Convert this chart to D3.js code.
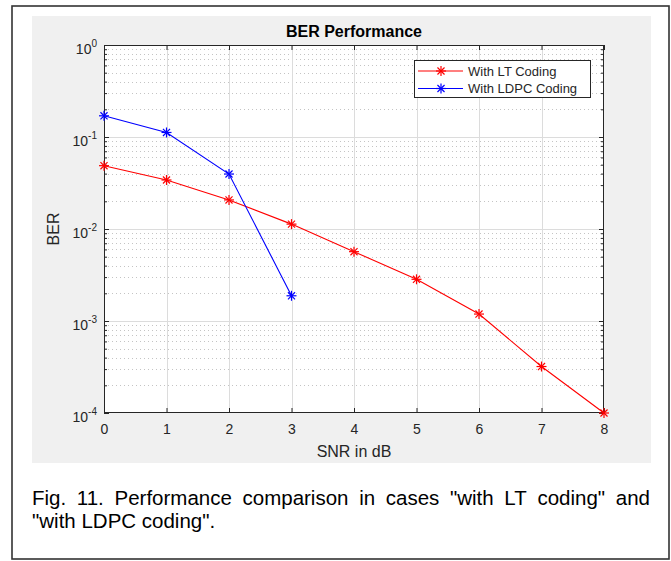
<!DOCTYPE html>
<html>
<head>
<meta charset="utf-8">
<script src="https://cdn.jsdelivr.net/npm/d3@7"></script>
<style>
  html, body { margin: 0; padding: 0; background: #ffffff; }
  svg { display: block; }
  text { font-family: "Liberation Sans", Arial, Helvetica, sans-serif; }
</style>
</head>
<body>
<svg id="chart" width="671" height="561"></svg>
<script>
// ---------- data ----------
const snr = [0, 1, 2, 3, 4, 5, 6, 7, 8];
const berLT = [0.0488, 0.0341, 0.0207, 0.0113, 0.00567, 0.00284, 0.00119, 0.00032, 0.0001];
const snrLDPC = [0, 1, 2, 3];
const berLDPC = [0.170, 0.112, 0.0396, 0.00188];
const seriesNames = ["With LT Coding", "With LDPC Coding"];
const xTicks = [0, 1, 2, 3, 4, 5, 6, 7, 8];
const yExponents = [0, -1, -2, -3, -4];
const titleText = "BER Performance";
const xLabel = "SNR in dB";
const yLabel = "BER";
const captionLines = [
  "Fig. 11. Performance comparison in cases \"with LT coding\" and",
  "\"with LDPC coding\"."
];

// ---------- layout ----------
const svg = d3.select("#chart");
const plot = { left: 104, right: 604, top: 45, bottom: 413 };
const axisColor = "#262626";

// outer border
svg.append("rect").attr("x", 12).attr("y", 6).attr("width", 657).attr("height", 553)
  .attr("fill", "#ffffff").attr("stroke", "#333333").attr("stroke-width", 1.6);
// figure background
svg.append("rect").attr("x", 32).attr("y", 16).attr("width", 619).attr("height", 447)
  .attr("fill", "#f0f0f0");
// plot background
svg.append("rect").attr("x", plot.left).attr("y", plot.top)
  .attr("width", plot.right - plot.left).attr("height", plot.bottom - plot.top)
  .attr("fill", "#ffffff");

const x = d3.scaleLinear().domain([0, 8]).range([plot.left, plot.right]);
const y = d3.scaleLog().domain([1e-4, 1]).range([plot.bottom, plot.top]);

// minor values
const minorVals = [];
for (let e = -4; e < 0; e++) for (let k = 2; k <= 9; k++) minorVals.push(k * Math.pow(10, e));
const majorVals = yExponents.map(e => Math.pow(10, e));

// minor grid (dotted)
svg.append("g").selectAll("line").data(minorVals).join("line")
  .attr("x1", plot.left).attr("x2", plot.right)
  .attr("y1", d => Math.round(y(d)) + 0.5).attr("y2", d => Math.round(y(d)) + 0.5)
  .attr("stroke", "#c4c4c4").attr("stroke-width", 1).attr("stroke-dasharray", "1,3");
// major grid horizontal
svg.append("g").selectAll("line").data(majorVals.slice(1, -1)).join("line")
  .attr("x1", plot.left).attr("x2", plot.right)
  .attr("y1", d => Math.round(y(d)) + 0.5).attr("y2", d => Math.round(y(d)) + 0.5)
  .attr("stroke", "#dcdcdc").attr("stroke-width", 1);
// major grid vertical
svg.append("g").selectAll("line").data(xTicks.slice(1, -1)).join("line")
  .attr("x1", d => Math.round(x(d)) + 0.5).attr("x2", d => Math.round(x(d)) + 0.5)
  .attr("y1", plot.top).attr("y2", plot.bottom)
  .attr("stroke", "#dcdcdc").attr("stroke-width", 1);

// axes (ticks inside)
const xAxisB = d3.axisBottom(x).tickValues(xTicks).tickSizeInner(-5).tickSizeOuter(0).tickPadding(11).tickFormat(d3.format("d"));
const gxb = svg.append("g").attr("transform", `translate(0,${plot.bottom})`).call(xAxisB);
const xAxisT = d3.axisTop(x).tickValues(xTicks).tickSizeInner(-5).tickSizeOuter(0).tickFormat("");
const gxt = svg.append("g").attr("transform", `translate(0,${plot.top})`).call(xAxisT);

const yAxisL = d3.axisLeft(y).tickValues(majorVals).tickSizeInner(-5).tickSizeOuter(0).tickFormat("");
const gyl = svg.append("g").attr("transform", `translate(${plot.left},0)`).call(yAxisL);
const yAxisR = d3.axisRight(y).tickValues(majorVals).tickSizeInner(-5).tickSizeOuter(0).tickFormat("");
const gyr = svg.append("g").attr("transform", `translate(${plot.right},0)`).call(yAxisR);
const yMinorL = d3.axisLeft(y).tickValues(minorVals).tickSizeInner(-3).tickSizeOuter(0).tickFormat("");
const gyml = svg.append("g").attr("transform", `translate(${plot.left},0)`).call(yMinorL);
const yMinorR = d3.axisRight(y).tickValues(minorVals).tickSizeInner(-3).tickSizeOuter(0).tickFormat("");
const gymr = svg.append("g").attr("transform", `translate(${plot.right},0)`).call(yMinorR);

[gxb, gxt, gyl, gyr, gyml, gymr].forEach(g => {
  g.select(".domain").remove();
  g.selectAll(".tick line").attr("stroke", axisColor).attr("stroke-width", 1);
});
gxb.selectAll(".tick text").attr("fill", axisColor).attr("font-size", 14)
  .attr("font-family", "Liberation Sans, Arial, sans-serif");

// y labels with superscripts
gyl.selectAll(".tick").each(function(d) {
  const e = Math.round(Math.log10(d));
  const t = d3.select(this).append("text")
    .attr("x", -7).attr("y", 8).attr("text-anchor", "end")
    .attr("fill", axisColor).attr("font-size", 14)
    .attr("font-family", "Liberation Sans, Arial, sans-serif");
  t.append("tspan").text("10");
  t.append("tspan").attr("dy", -7).attr("font-size", 10).text(String(e));
});

// axes box
svg.append("rect").attr("x", plot.left + 0.5).attr("y", plot.top + 0.5)
  .attr("width", plot.right - plot.left - 1).attr("height", plot.bottom - plot.top - 1)
  .attr("fill", "none").attr("stroke", axisColor).attr("stroke-width", 1);

// ---------- series ----------
function asterisk(g, cx, cy, color, r) {
  const a = r * Math.SQRT1_2;
  const segs = [[-r, 0, r, 0], [0, -r, 0, r], [-a, -a, a, a], [-a, a, a, -a]];
  segs.forEach(s => g.append("line")
    .attr("x1", cx + s[0]).attr("y1", cy + s[1]).attr("x2", cx + s[2]).attr("y2", cy + s[3])
    .attr("stroke", color).attr("stroke-width", 1.2));
}
const line = d3.line().x(d => x(d[0])).y(d => y(d[1]));
const series = [
  { name: seriesNames[0], color: "#ff0000", pts: snr.map((s, i) => [s, berLT[i]]) },
  { name: seriesNames[1], color: "#0000ff", pts: snrLDPC.map((s, i) => [s, berLDPC[i]]) }
];
series.forEach(s => {
  svg.append("path").datum(s.pts).attr("d", line)
    .attr("fill", "none").attr("stroke", s.color).attr("stroke-width", 1.1);
  const g = svg.append("g");
  s.pts.forEach(p => asterisk(g, x(p[0]), y(p[1]), s.color, 5));
});

// ---------- legend ----------
const lg = svg.append("g");
lg.append("rect").attr("x", 414.5).attr("y", 60.5).attr("width", 176).attr("height", 37)
  .attr("fill", "#ffffff").attr("stroke", axisColor).attr("stroke-width", 1);
series.forEach((s, i) => {
  const ly = 71 + i * 17.5;
  lg.append("line").attr("x1", 418).attr("x2", 463).attr("y1", ly).attr("y2", ly)
    .attr("stroke", s.color).attr("stroke-width", 1.1);
  asterisk(lg, 441, ly, s.color, 5);
  lg.append("text").attr("x", 468).attr("y", ly + 4.5).attr("font-size", 13)
    .attr("fill", axisColor).text(s.name);
});

// ---------- titles ----------
svg.append("text").attr("x", 354).attr("y", 37).attr("text-anchor", "middle")
  .attr("font-size", 16).attr("font-weight", "bold").attr("fill", "#000000").text(titleText);
svg.append("text").attr("x", 354).attr("y", 457).attr("text-anchor", "middle")
  .attr("font-size", 16).attr("fill", axisColor).text(xLabel);
svg.append("text").attr("transform", "translate(59,229) rotate(-90)").attr("text-anchor", "middle")
  .attr("font-size", 16).attr("fill", axisColor).text(yLabel);

// ---------- caption (justified first line) ----------
const capLeft = 32, capRight = 650, capSize = 20.5;
const capBase = [505, 528];
captionLines.forEach((ln, li) => {
  if (li === captionLines.length - 1) {
    svg.append("text").attr("x", capLeft).attr("y", capBase[li]).attr("font-size", capSize)
      .attr("fill", "#000000").text(ln);
    return;
  }
  const words = ln.split(" ");
  const widths = words.map(w => {
    const t = svg.append("text").attr("font-size", capSize).text(w);
    const wd = t.node().getComputedTextLength();
    t.remove();
    return wd;
  });
  const total = d3.sum(widths);
  const gap = (capRight - capLeft - total) / (words.length - 1);
  let cx = capLeft;
  words.forEach((w, i) => {
    svg.append("text").attr("x", cx).attr("y", capBase[li]).attr("font-size", capSize)
      .attr("fill", "#000000").text(w);
    cx += widths[i] + gap;
  });
});
</script>
</body>
</html>
